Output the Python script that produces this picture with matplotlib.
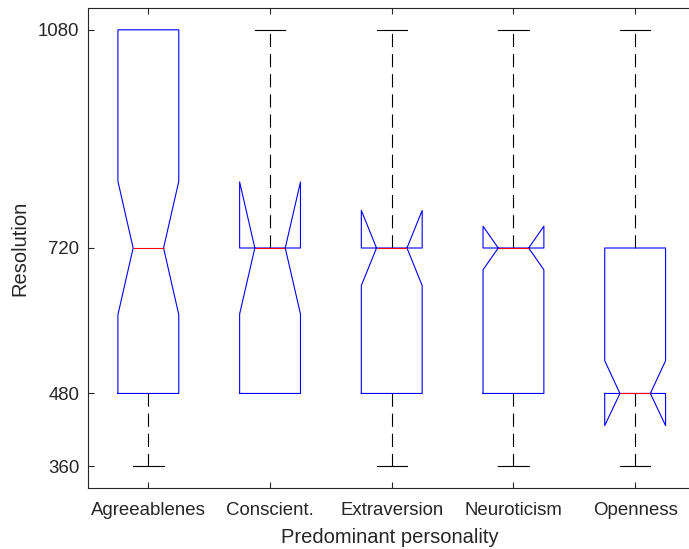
import matplotlib
matplotlib.use("Agg")
import matplotlib.pyplot as plt

# ---- data ----
categories = ["Agreeablenes", "Conscient.", "Extraversion", "Neuroticism", "Openness"]
medians = [720, 720, 720, 720, 480]
q1s = [480, 480, 480, 480, 480]
q3s = [1080, 720, 720, 720, 720]
whislos = [360, 480, 360, 360, 360]
whishis = [1080, 1080, 1080, 1080, 1080]
cilos = [610, 611, 658, 684, 427]
cihis = [830, 829, 782, 756, 534]
yticks = [360, 480, 720, 1080]

plt.rcParams['font.family'] = ['Liberation Sans', 'DejaVu Sans']
plt.rcParams['lines.scale_dashes'] = False

W, H = 689, 549
fig = plt.figure(figsize=(W / 100, H / 100), dpi=100)
left_px, right_px, top_px, bot_px = 87.5, 696.0, 8.0, 488.0
ax = fig.add_axes([left_px / W, (H - bot_px) / H,
                   (right_px - left_px) / W, (bot_px - top_px) / H])

stats = []
for i, c in enumerate(categories):
    stats.append(dict(label=c, med=medians[i], q1=q1s[i], q3=q3s[i],
                      whislo=whislos[i], whishi=whishis[i],
                      cilo=cilos[i], cihi=cihis[i], fliers=[]))

lw = 0.8
res = ax.bxp(stats, positions=range(1, len(categories) + 1), widths=0.5,
             shownotches=True, showfliers=False,
             boxprops=dict(color='#0000ff', linewidth=lw, zorder=4),
             medianprops=dict(color='#ff0000', linewidth=lw, zorder=5),
             whiskerprops=dict(color='black', linewidth=lw, linestyle=(0, (9.5, 5.0)), zorder=2),
             capprops=dict(color='black', linewidth=lw, zorder=2))

# caps that coincide with a box edge are hidden under the box in the reference
for i in range(len(categories)):
    if whislos[i] == q1s[i]:
        res['caps'][2 * i].set_visible(False)
    if whishis[i] == q3s[i]:
        res['caps'][2 * i + 1].set_visible(False)

ax.set_xlim(0.5, len(categories) + 0.5)
ax.set_ylim(324, 1116)
ax.set_yticks(yticks)
ax.set_yticklabels([str(v) for v in yticks])
ax.set_xticks(range(1, len(categories) + 1))
ax.set_xticklabels(categories)

tc = '#262626'
for s in ax.spines.values():
    s.set_color(tc)
    s.set_linewidth(0.8)
ax.tick_params(direction='in', length=4.3, width=0.8, color=tc,
               labelcolor=tc, labelsize=13.4, top=True, right=True)
ax.tick_params(axis='y', pad=6)
ax.tick_params(axis='x', pad=10)

ax.set_xlabel('Predominant personality', fontsize=14.5, color=tc, va='center')
ax.xaxis.set_label_coords((390 - left_px) / (right_px - left_px),
                          ((H - 537.5) - (H - bot_px)) / (bot_px - top_px))
ax.set_ylabel('Resolution', fontsize=14.5, color=tc, va='center')
ax.yaxis.set_label_coords((20 - left_px) / (right_px - left_px), 0.5)

fig.savefig('out.png', dpi=100)
